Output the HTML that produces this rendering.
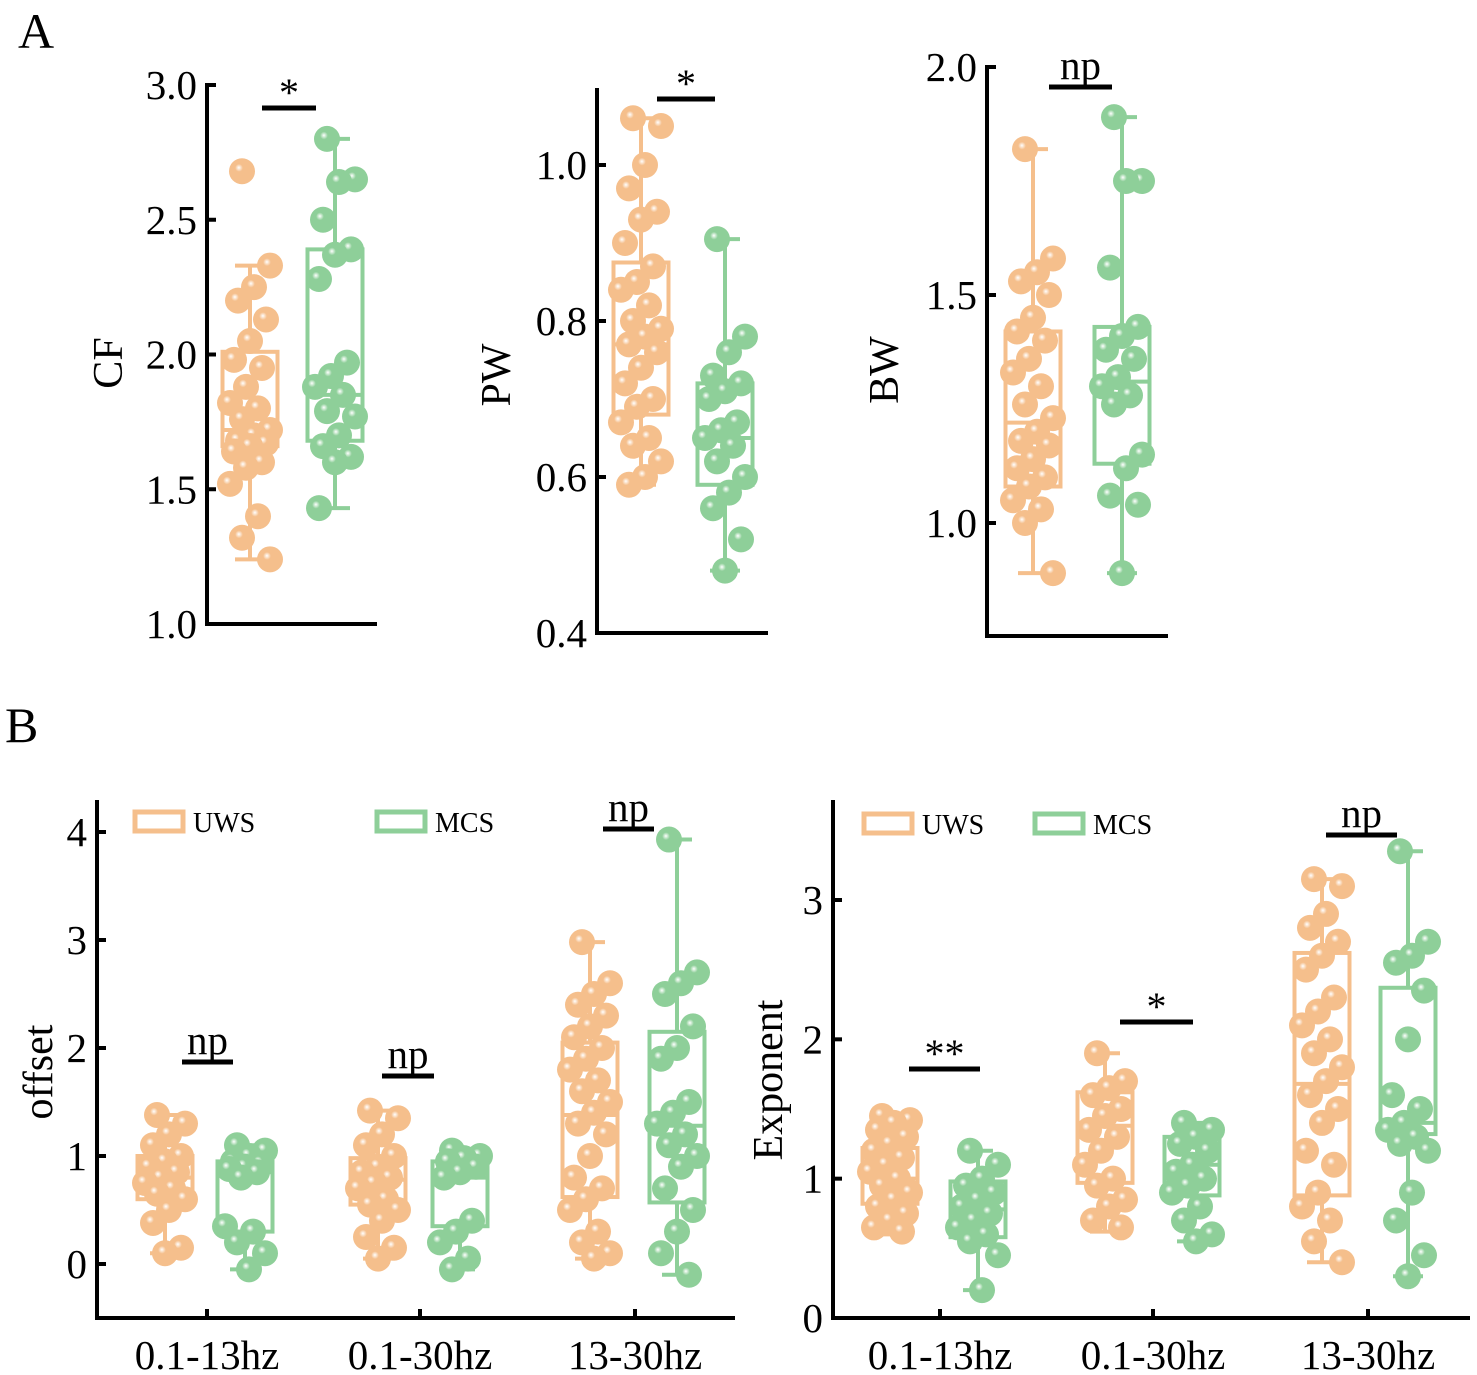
<!DOCTYPE html>
<html><head><meta charset="utf-8"><style>
body{margin:0;background:#fff;}
svg{display:block;font-family:"Liberation Serif",serif;}
</style></head><body>
<svg id="fig" width="1477" height="1375" viewBox="0 0 1477 1375" xmlns="http://www.w3.org/2000/svg">
<text x="18" y="48" font-size="50">A</text>
<text x="5" y="742" font-size="50">B</text>
</svg>
<script>
// ---- data ----
const groupNames = ["UWS","MCS"];
const bandCategories = ["0.1-13hz","0.1-30hz","13-30hz"];
const cfTicks = [1.0,1.5,2.0,2.5,3.0];
const pwTicks = [0.4,0.6,0.8,1.0];
const bwTicks = [1.0,1.5,2.0];
const offsetTicks = [0,1,2,3,4];
const expTicks = [0,1,2,3];
const cfUWS = [2.68,2.33,2.25,2.2,2.13,2.05,1.98,1.95,1.88,1.82,1.8,1.76,1.72,1.7,1.68,1.67,1.66,1.64,1.6,1.58,1.52,1.4,1.32,1.24];
const cfMCS = [2.8,2.65,2.64,2.5,2.39,2.37,2.28,1.97,1.92,1.88,1.85,1.79,1.77,1.7,1.66,1.62,1.6,1.43];
const cfBoxUWS = [1.24,1.66,1.72,2.01,2.33];
const cfBoxMCS = [1.43,1.68,1.85,2.39,2.8];
const pwUWS = [1.06,1.05,1.0,0.97,0.94,0.93,0.9,0.87,0.85,0.84,0.82,0.8,0.79,0.78,0.77,0.76,0.74,0.72,0.7,0.69,0.67,0.65,0.64,0.62,0.6,0.59];
const pwMCS = [0.905,0.78,0.76,0.73,0.72,0.71,0.7,0.67,0.66,0.65,0.64,0.62,0.6,0.58,0.56,0.52,0.48];
const pwBoxUWS = [0.59,0.68,0.77,0.875,1.06];
const pwBoxMCS = [0.48,0.59,0.65,0.72,0.905];
const bwUWS = [1.82,1.58,1.55,1.53,1.5,1.45,1.42,1.4,1.36,1.33,1.3,1.26,1.23,1.2,1.18,1.17,1.14,1.12,1.1,1.08,1.05,1.03,1.0,0.89];
const bwMCS = [1.89,1.75,1.75,1.56,1.43,1.41,1.38,1.36,1.32,1.3,1.28,1.26,1.15,1.12,1.06,1.04,0.89];
const bwBoxUWS = [0.89,1.08,1.22,1.42,1.82];
const bwBoxMCS = [0.89,1.13,1.31,1.43,1.89];
const offUWS1 = [1.38,1.3,1.2,1.1,1.0,0.95,0.9,0.85,0.8,0.75,0.7,0.65,0.6,0.5,0.38,0.15,0.1];
const offMCS1 = [1.1,1.05,1.0,0.95,0.93,0.9,0.88,0.85,0.8,0.35,0.3,0.2,0.1,-0.05];
const offUWS2 = [1.42,1.35,1.2,1.1,1.0,0.9,0.85,0.8,0.75,0.7,0.6,0.55,0.5,0.4,0.25,0.15,0.05];
const offMCS2 = [1.05,1.0,0.98,0.95,0.9,0.85,0.8,0.4,0.3,0.2,0.05,-0.05];
const offUWS3 = [2.98,2.6,2.5,2.4,2.3,2.2,2.1,2.0,1.9,1.8,1.7,1.6,1.5,1.4,1.3,1.2,1.0,0.8,0.7,0.6,0.5,0.3,0.2,0.1,0.05];
const offMCS3 = [3.93,2.7,2.6,2.5,2.2,2.0,1.9,1.5,1.4,1.3,1.2,1.1,1.0,0.9,0.7,0.5,0.3,0.1,-0.1];
const offBoxUWS = [[0.1,0.6,0.8,1.0,1.38],[0.05,0.55,0.78,0.98,1.42],[0.05,0.62,1.38,2.05,2.98]];
const offBoxMCS = [[-0.05,0.3,0.85,0.95,1.1],[-0.05,0.35,0.8,0.95,1.05],[-0.1,0.57,1.28,2.15,3.93]];
const expUWS1 = [1.45,1.42,1.4,1.35,1.3,1.25,1.2,1.15,1.1,1.05,1.0,0.95,0.9,0.85,0.8,0.75,0.7,0.65,0.62];
const expMCS1 = [1.2,1.1,1.0,0.95,0.9,0.85,0.8,0.75,0.7,0.65,0.6,0.55,0.45,0.2];
const expUWS2 = [1.9,1.7,1.65,1.6,1.5,1.45,1.35,1.3,1.2,1.1,1.0,0.95,0.85,0.8,0.7,0.65];
const expMCS2 = [1.4,1.35,1.3,1.25,1.2,1.1,1.05,1.0,0.95,0.9,0.8,0.7,0.6,0.55];
const expUWS3 = [3.15,3.1,2.9,2.8,2.7,2.6,2.5,2.3,2.2,2.1,2.0,1.9,1.8,1.7,1.6,1.5,1.4,1.2,1.1,0.9,0.8,0.7,0.55,0.4];
const expMCS3 = [3.35,2.7,2.6,2.55,2.35,2.0,1.6,1.5,1.4,1.35,1.3,1.25,1.2,0.9,0.7,0.45,0.3];
const expBoxUWS = [[0.6,0.82,1.0,1.22,1.45],[0.62,0.97,1.38,1.62,1.9],[0.4,0.88,1.68,2.62,3.15]];
const expBoxMCS = [[0.2,0.58,0.78,0.98,1.2],[0.55,0.88,1.1,1.3,1.4],[0.3,1.32,1.4,2.37,3.35]];
const sigA = ["*","*","np"];
const sigOffset = ["np","np","np"];
const sigExp = ["**","*","np"];

// ---- drawing ----
const svg = document.getElementById('fig');
const NS = "http://www.w3.org/2000/svg";
const ORANGE="#f5bf8c", GREEN="#8ecf99";
function mk(tag, attrs, parent){const e=document.createElementNS(NS,tag);for(const k in attrs)e.setAttribute(k,attrs[k]);(parent||svg).appendChild(e);return e;}
const defs = mk('defs',{});
[["gO",ORANGE],["gG",GREEN]].forEach(([id,c])=>{
  const g=mk('radialGradient',{id:id,cx:"0.4",cy:"0.4",r:"0.6",fx:"0.38",fy:"0.36"},defs);
  mk('stop',{offset:"0",'stop-color':"#ffffff"},g);
  mk('stop',{offset:"0.25",'stop-color':c},g);
  mk('stop',{offset:"1",'stop-color':c},g);
});
function scaleY(v0,y0,v1,y1){return v=>y0+(v-v0)*(y1-y0)/(v1-v0);}

function axisY(x,yTop,yBot,sy,ticks,fmt,name,title,tx,ty){
  const line=mk('line',{x1:x,y1:yTop,x2:x,y2:yBot,stroke:"#000","stroke-width":4});
  
  
  ticks.forEach(t=>{
    const y=sy(t);
    const tk=mk('line',{x1:x,y1:y,x2:x+9,y2:y,stroke:"#000","stroke-width":4});
    
    
    const tl=mk('text',{x:x-10,y:y+14,'font-size':41,'text-anchor':'end'});
    tl.textContent=fmt(t);
    
    
  });
  const tt=mk('text',{x:tx,y:ty,'font-size':42,'text-anchor':'middle',transform:`rotate(-90 ${tx} ${ty})`});
  tt.textContent=title;
  
  
}
function axisX(x0,x1,y,name){
  const l=mk('line',{x1:x0-2,y1:y,x2:x1,y2:y,stroke:"#000","stroke-width":4});
  
  
}
function box(cx,sy,stats,color,name){
  const g=mk('g',{});
  
  
  const w=55,cap=15;
  const [lo,q1,md,q3,hi]=stats.map(sy);
  mk('line',{x1:cx,y1:hi,x2:cx,y2:q3,stroke:color,'stroke-width':4},g);
  mk('line',{x1:cx,y1:q1,x2:cx,y2:lo,stroke:color,'stroke-width':4},g);
  mk('line',{x1:cx-cap,y1:hi,x2:cx+cap,y2:hi,stroke:color,'stroke-width':4},g);
  mk('line',{x1:cx-cap,y1:lo,x2:cx+cap,y2:lo,stroke:color,'stroke-width':4},g);
  mk('rect',{x:cx-w/2,y:q3,width:w,height:q1-q3,fill:'none',stroke:color,'stroke-width':4},g);
  mk('line',{x1:cx-w/2,y1:md,x2:cx+w/2,y2:md,stroke:color,'stroke-width':4},g);
}
function points(cx,sy,vals,grad,name){
  vals.forEach((v,i)=>{
    const j=(((i*7+3)%11)-5)/5*20;
    const c=mk('circle',{cx:cx+j,cy:sy(v),r:13,fill:`url(#${grad})`});
    
    
  });
}
function sig(x0,x1,y,label,name){
  const l=mk('line',{x1:x0,y1:y,x2:x1,y2:y,stroke:"#000","stroke-width":5});
  
  
  const isStar=label.indexOf('*')>=0;
  const t=mk('text',{x:(x0+x1)/2,y:isStar?y-2:y-8,'font-size':isStar?40:41,'text-anchor':'middle'});
  t.textContent=label;
  
  
}
function legend(x,y,color,label,name){
  const r=mk('rect',{x:x,y:y,width:48,height:19,fill:'none',stroke:color,'stroke-width':5});
  
  
  const t=mk('text',{x:x+58,y:y+20,'font-size':28});
  t.textContent=label;
  
  
}

// Panel A1 CF
let s=scaleY(1.0,624,3.0,85);
axisY(207,83,626,s,cfTicks,v=>v.toFixed(1),'cf','CF',122,363);
axisX(207,377,624,'cf');
box(250,s,cfBoxUWS,ORANGE,'cf-uws-box');box(335,s,cfBoxMCS,GREEN,'cf-mcs-box');
points(250,s,cfUWS,'gO','cf-uws');points(335,s,cfMCS,'gG','cf-mcs');
sig(262,316,108,sigA[0],'cf');
// Panel A2 PW
s=scaleY(0.4,633,1.0,165);
axisY(597,88,635,s,pwTicks,v=>v.toFixed(1),'pw','PW',510,375);
axisX(597,768,633,'pw');
box(641,s,pwBoxUWS,ORANGE,'pw-uws-box');box(725,s,pwBoxMCS,GREEN,'pw-mcs-box');
points(641,s,pwUWS,'gO','pw-uws');points(725,s,pwMCS,'gG','pw-mcs');
sig(657,715,99,sigA[1],'pw');
// Panel A3 BW
s=scaleY(1.0,523,2.0,67);
axisY(987,65,638,s,bwTicks,v=>v.toFixed(1),'bw','BW',898,370);
axisX(987,1168,636,'bw');
box(1033,s,bwBoxUWS,ORANGE,'bw-uws-box');box(1122,s,bwBoxMCS,GREEN,'bw-mcs-box');
points(1033,s,bwUWS,'gO','bw-uws');points(1122,s,bwMCS,'gG','bw-mcs');
sig(1049,1112,87,sigA[2],'bw');

function catAxis(ticksX,y,name){
  ticksX.forEach((x,i)=>{
    const tk=mk('line',{x1:x,y1:y,x2:x,y2:y-9,stroke:"#000","stroke-width":4});
    
    
    const t=mk('text',{x:x,y:y+51,'font-size':41,'text-anchor':'middle'});
    t.textContent=bandCategories[i];
    
    
  });
}
// Panel B1 offset
s=scaleY(0,1264,4,832);
axisY(97,800,1320,s,offsetTicks,v=>String(v),'offset','offset',52,1072);
axisX(97,735,1318,'offset');
catAxis([207,420,635],1318,'offset');
const offU=[offUWS1,offUWS2,offUWS3], offM=[offMCS1,offMCS2,offMCS3];
const cxB1U=[165,378,590], cxB1M=[245,460,677];
const sigB1=[[182,233,1062],[382,434,1076],[603,654,829]];
for(let i=0;i<3;i++){
  box(cxB1U[i],s,offBoxUWS[i],ORANGE,'offset-uws-box-'+(i+1));
  box(cxB1M[i],s,offBoxMCS[i],GREEN,'offset-mcs-box-'+(i+1));
  points(cxB1U[i],s,offU[i],'gO','offset-uws-'+(i+1));
  points(cxB1M[i],s,offM[i],'gG','offset-mcs-'+(i+1));
  sig(sigB1[i][0],sigB1[i][1],sigB1[i][2],sigOffset[i],'offset-'+(i+1));
}
legend(135,812,ORANGE,groupNames[0],'offset-uws');legend(377,812,GREEN,groupNames[1],'offset-mcs');
// Panel B2 exponent
s=scaleY(0,1318,3,900);
axisY(833,800,1320,s,expTicks,v=>String(v),'exponent','Exponent',782,1080);
axisX(833,1470,1318,'exponent');
catAxis([940,1153,1368],1318,'exponent');
const expU=[expUWS1,expUWS2,expUWS3], expM=[expMCS1,expMCS2,expMCS3];
const cxB2U=[890,1105,1322], cxB2M=[978,1192,1408];
const sigB2=[[909,980,1069],[1120,1193,1022],[1326,1397,835]];
for(let i=0;i<3;i++){
  box(cxB2U[i],s,expBoxUWS[i],ORANGE,'exponent-uws-box-'+(i+1));
  box(cxB2M[i],s,expBoxMCS[i],GREEN,'exponent-mcs-box-'+(i+1));
  points(cxB2U[i],s,expU[i],'gO','exponent-uws-'+(i+1));
  points(cxB2M[i],s,expM[i],'gG','exponent-mcs-'+(i+1));
  sig(sigB2[i][0],sigB2[i][1],sigB2[i][2],sigExp[i],'exponent-'+(i+1));
}
legend(864,814,ORANGE,groupNames[0],'exponent-uws');legend(1035,814,GREEN,groupNames[1],'exponent-mcs');
</script>
</body></html>
